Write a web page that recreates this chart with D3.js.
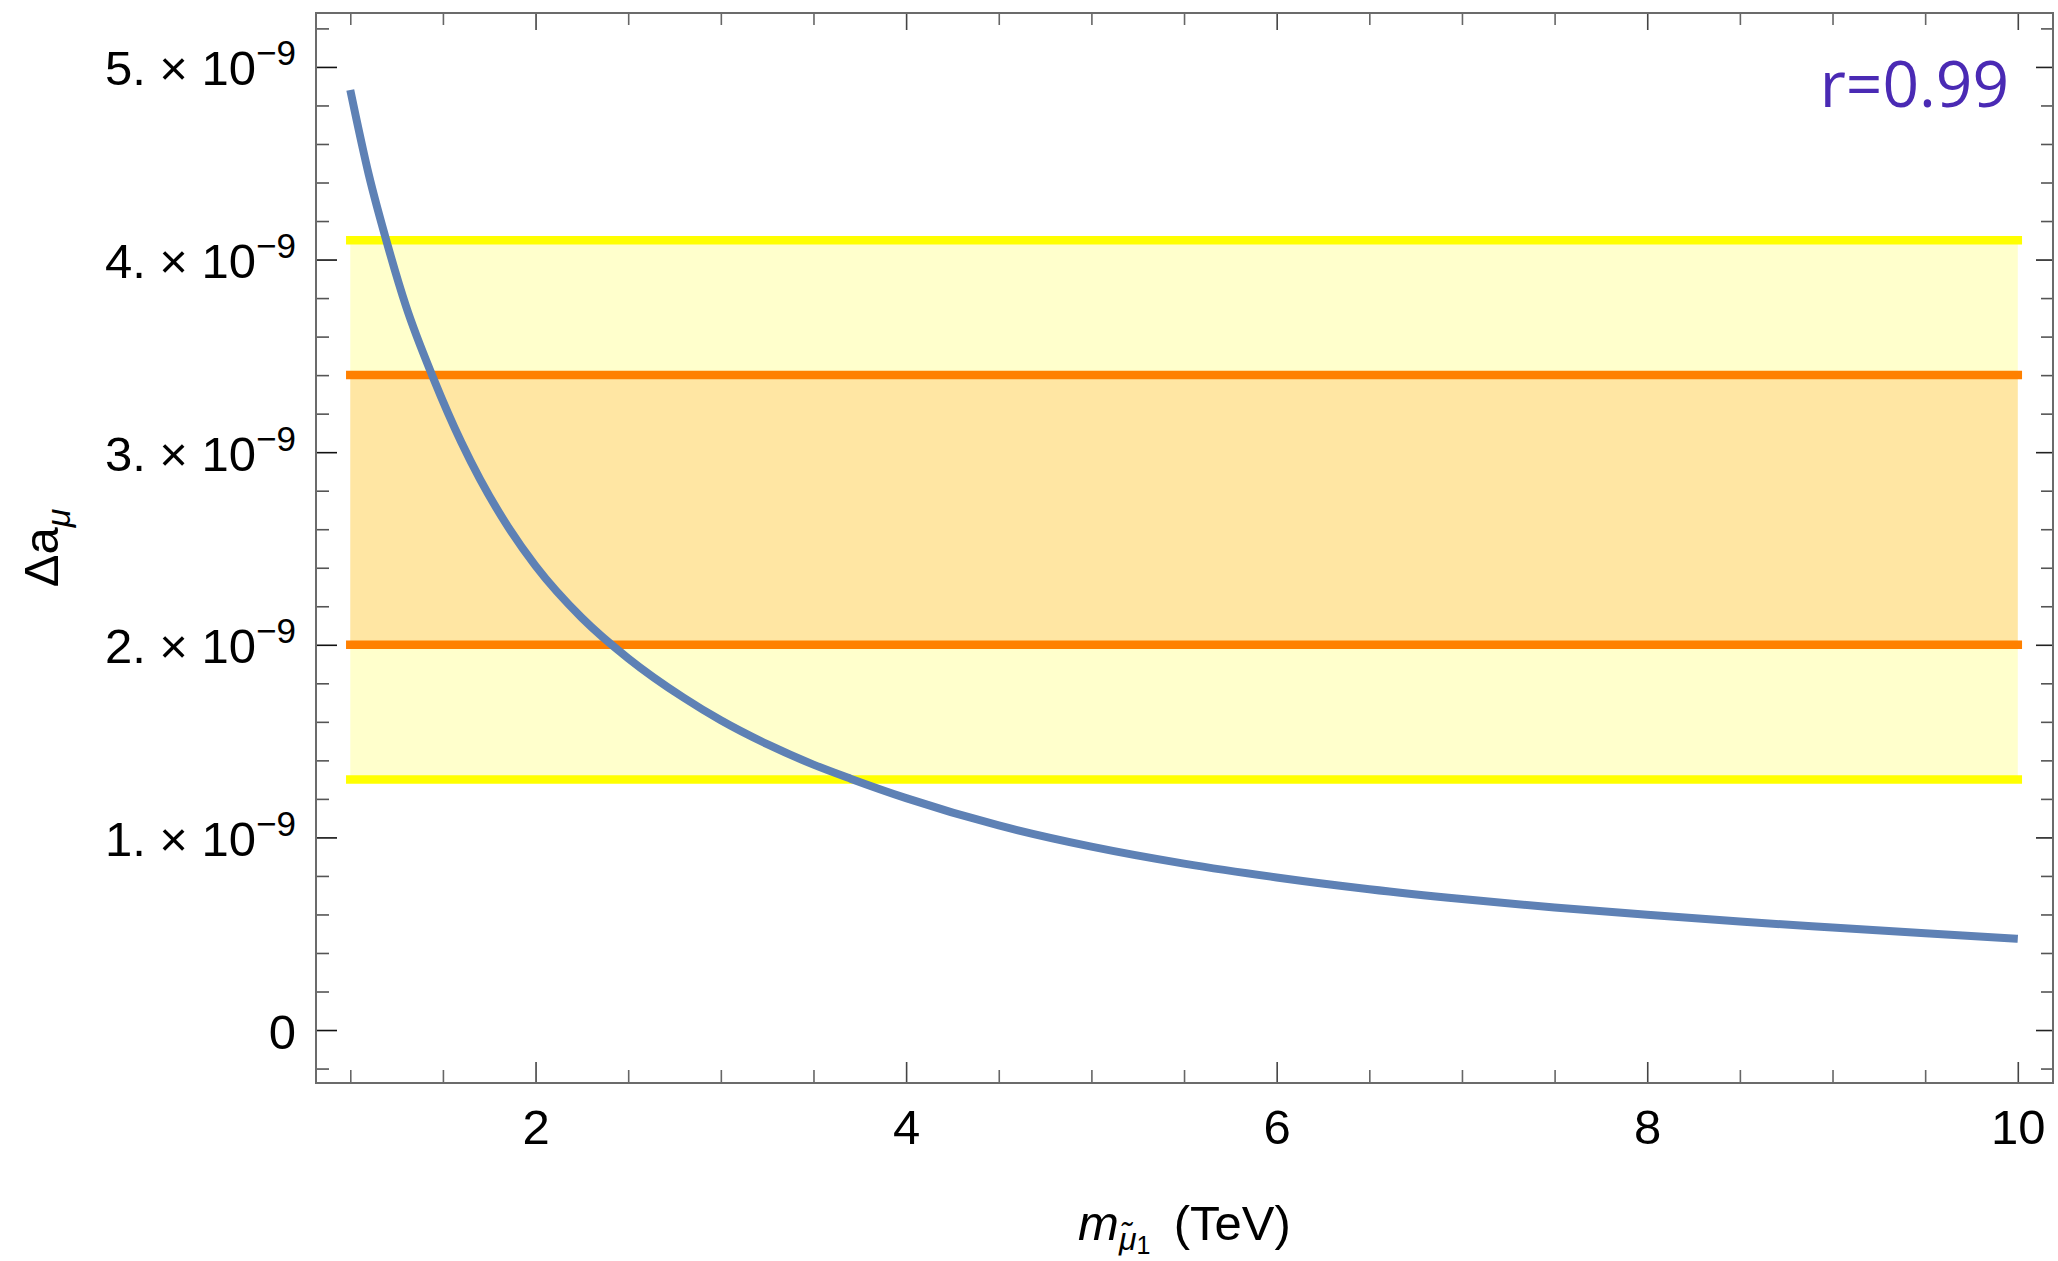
<!DOCTYPE html>
<html>
<head>
<meta charset="utf-8">
<script src="https://cdn.jsdelivr.net/npm/d3@7"></script>
<style>
  html, body { margin: 0; padding: 0; background: #fff; }
  svg { display: block; }
  text { font-family: "Liberation Sans", Arial, sans-serif; }
</style>
</head>
<body>
<div id="chart"></div>
<script>
(function(){

  // smuon mass (TeV) and Delta a_mu (units of 1e-9)
  var mass = [1, 1.1, 1.2, 1.3, 1.45, 1.6, 1.7, 1.85, 2.0, 2.25, 2.5, 2.8, 3.0, 3.25, 3.5, 3.7,
              4.0, 4.5, 5, 5.5, 6, 6.5, 7, 7.5, 8, 8.5, 9, 9.5, 10];
  var deltaA = [4.88, 4.44, 4.08, 3.76, 3.38, 3.05, 2.86, 2.615, 2.41, 2.14, 1.93, 1.725, 1.608, 1.484, 1.378, 1.305,
                1.204, 1.062, 0.952, 0.864, 0.792, 0.731, 0.680, 0.636, 0.598, 0.563, 0.532, 0.502, 0.474];

  // experimental bands (units of 1e-9)
  var band2sigma = [1.3, 4.1];
  var band1sigma = [2.0, 3.4];
  var bandMass = [1, 10];

  var xMajor = [2, 4, 6, 8, 10];
  var xMinor = [1, 1.5, 2.5, 3, 3.5, 4.5, 5, 5.5, 6.5, 7, 7.5, 8.5, 9, 9.5];
  var yMajor = [0, 1, 2, 3, 4, 5];
  var yMinor = [-0.2, 0.2, 0.4, 0.6, 0.8, 1.2, 1.4, 1.6, 1.8, 2.2, 2.4, 2.6, 2.8,
                3.2, 3.4, 3.6, 3.8, 4.2, 4.4, 4.6, 4.8, 5.2];
  var annotation = "r=0.99";

  var width = 2058, height = 1261;
  var left = 316, right = 2053, top = 13, bottom = 1083;

  var x = d3.scaleLinear().domain([0.815, 10.19]).range([left, right]);
  var y = d3.scaleLinear().domain([-0.275, 5.28]).range([bottom, top]);

  var svg = d3.select("#chart").append("svg")
    .attr("width", width)
    .attr("height", height);

  svg.append("rect").attr("width", width).attr("height", height).attr("fill", "#fff");

  // bands
  svg.append("rect")
    .attr("x", x(bandMass[0])).attr("width", x(bandMass[1]) - x(bandMass[0]))
    .attr("y", y(band2sigma[1])).attr("height", y(band2sigma[0]) - y(band2sigma[1]))
    .attr("fill", "#ffff00").attr("fill-opacity", 0.2);
  svg.append("rect")
    .attr("x", x(bandMass[0])).attr("width", x(bandMass[1]) - x(bandMass[0]))
    .attr("y", y(band1sigma[1])).attr("height", y(band1sigma[0]) - y(band1sigma[1]))
    .attr("fill", "#ff8000").attr("fill-opacity", 0.2);

  function hline(v, color){
    svg.append("line")
      .attr("x1", x(bandMass[0])).attr("x2", x(bandMass[1]))
      .attr("y1", y(v)).attr("y2", y(v))
      .attr("stroke", color).attr("stroke-width", 8.5)
      .attr("stroke-linecap", "square");
  }
  hline(band2sigma[0], "#ffff00");
  hline(band2sigma[1], "#ffff00");
  hline(band1sigma[0], "#ff8000");
  hline(band1sigma[1], "#ff8000");

  // curve
  var line = d3.line()
    .x(function(d, i){ return x(mass[i]); })
    .y(function(d){ return y(d); })
    .curve(d3.curveMonotoneX);

  svg.append("path")
    .datum(deltaA)
    .attr("d", line)
    .attr("fill", "none")
    .attr("stroke", "#5e81b5")
    .attr("stroke-width", 8);

  // ticks
  function ticks(axis, tr, values, size, color){
    var g = svg.append("g").attr("transform", tr).style("color", color)
      .call(axis.tickValues(values).tickSizeInner(-size).tickSizeOuter(0).tickFormat(""));
    g.select(".domain").remove();
    g.selectAll(".tick line").attr("stroke-width", 1.6);
    return g;
  }
  ticks(d3.axisBottom(x), "translate(0," + bottom + ")", xMinor, 13, "#666");
  ticks(d3.axisTop(x), "translate(0," + top + ")", xMinor, 12, "#666");
  ticks(d3.axisTop(x), "translate(0," + top + ")", xMajor, 17, "#444");
  ticks(d3.axisLeft(y), "translate(" + left + ",0)", yMinor, 13, "#555");
  ticks(d3.axisRight(y), "translate(" + right + ",0)", yMinor, 12, "#555");
  ticks(d3.axisRight(y), "translate(" + right + ",0)", yMajor, 17, "#222");

  var xb = ticks(d3.axisBottom(x), "translate(0," + bottom + ")", xMajor, 21, "#444");
  xb.selectAll(".tick").append("text")
    .attr("y", 61).attr("fill", "#000")
    .attr("text-anchor", "middle")
    .style("font-size", "49px")
    .text(function(d){ return d; });

  var yl = ticks(d3.axisLeft(y), "translate(" + left + ",0)", yMajor, 21, "#111");
  yl.selectAll(".tick").each(function(d){
    var t = d3.select(this).append("text")
      .attr("x", -20).attr("y", 18)
      .attr("fill", "#000")
      .attr("text-anchor", "end")
      .style("font-size", "49px");
    if (d === 0){
      t.text("0");
    } else {
      t.append("tspan").text(d + ". \u00d7 10");
      t.append("tspan").attr("dy", -20).style("font-size", "35px").text("\u22129");
    }
  });

  // frame
  svg.append("rect")
    .attr("x", left).attr("y", top)
    .attr("width", right - left).attr("height", bottom - top)
    .attr("fill", "none").attr("stroke", "#6b6b6b").attr("stroke-width", 2);

  // axis titles
  var ylab = svg.append("text")
    .attr("transform", "translate(58," + ((top + bottom) / 2) + ") rotate(-90)")
    .attr("text-anchor", "middle")
    .style("font-size", "49px");
  ylab.append("tspan").text("\u0394a");
  ylab.append("tspan").attr("dy", 12).style("font-size", "34px").style("font-style", "italic").text("\u03bc");

  var xlab = svg.append("text")
    .attr("x", (left + right) / 2).attr("y", 1240)
    .attr("text-anchor", "middle")
    .style("font-size", "49px");
  xlab.append("tspan").style("font-style", "italic").text("m");
  xlab.append("tspan").attr("dy", 10).style("font-size", "32px").style("font-style", "italic").text("\u03bc\u0303");
  xlab.append("tspan").attr("dy", 4).style("font-size", "25px").text("1");
  xlab.append("tspan").attr("dy", -14).text("\u2009 (TeV)");

  svg.append("text")
    .attr("x", 2009).attr("y", 107)
    .attr("text-anchor", "end")
    .attr("fill", "#4a2ab4")
    .style("font-family", "'Open Sans', 'Noto Sans', sans-serif")
    .style("font-size", "64px")
    .text(annotation);

})();
</script>
</body>
</html>
